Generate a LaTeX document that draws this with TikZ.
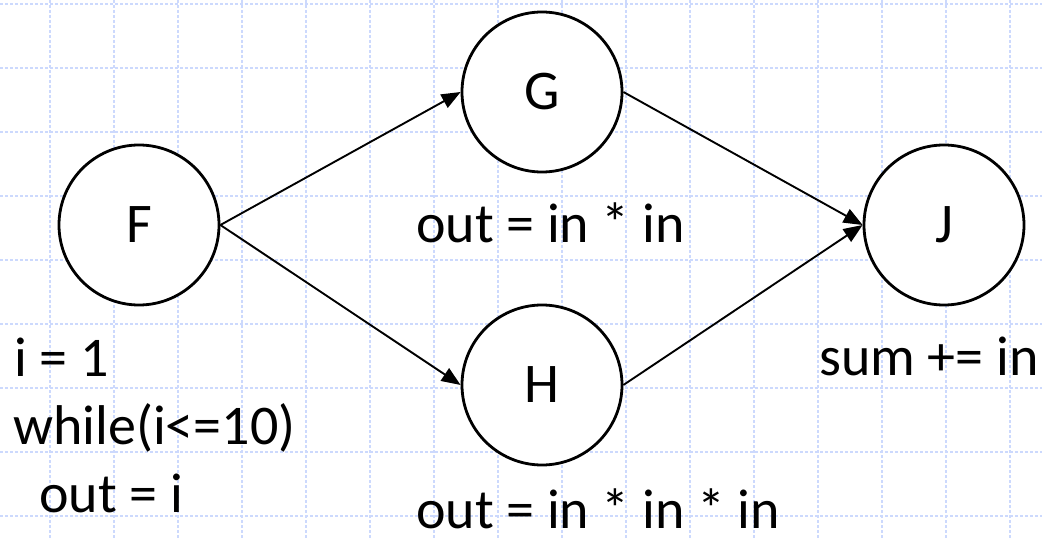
\documentclass[tikz,border=0pt]{standalone}
\usepackage{fontspec}
\setmainfont{Carlito}
\usetikzlibrary{arrows.meta,positioning}
\definecolor{gridblue}{RGB}{204,217,253}

\begin{document}
\begin{tikzpicture}[x=1pt, y=-1pt,
        every node/.style={font=\fontsize{56}{67}\selectfont},
        state/.style={draw, circle, fill=white, line width=2.8pt, minimum size=160pt, inner sep=0pt},
        gridline/.style={gridblue, line width=1.3pt, dash pattern=on 3pt off 2pt},
        flow/.style={-{Triangle[length=19pt, width=15pt]}, line width=1.9pt}]
        \useasboundingbox (0,0) rectangle (1042,540);

        % background grid
        \foreach \gx in {50,114,...,1010} {
            \draw[gridline] (\gx,0) -- (\gx,540);
        }
        \foreach \gy in {4,68,...,516} {
            \draw[gridline] (0,\gy) -- (1042,\gy);
        }

        \node[state] (f) at (139,225) {F};
        \node[state] (g) at (542,92) {G};
        \node[state] (h) at (542,385) {H};
        \node[state] (j) at (944,225) {J};

        \draw[flow] (f.east) -- (g.west);
        \draw[flow] (f.east) -- (h.west);
        \draw[flow] (g.east) -- (j.west);
        \draw[flow] (h.east) -- (j.west);

        % code labels
        \node[anchor=base west, inner sep=0pt] (finit) at (14,376) {i = 1};
        \node[anchor=base west, inner sep=0pt] (floop) at (13,444) {while(i<=10)};
        \node[anchor=base west, inner sep=0pt] (fbody) at (39,512) {out = i};
        \node[anchor=base west, inner sep=0pt] (gcode) at (416,243) {out = in * in};
        \node[anchor=base west, inner sep=0pt] (hcode) at (416,528) {out = in * in * in};
        \node[anchor=base west, inner sep=0pt] (jcode) at (819,375) {sum += in};
    \end{tikzpicture}
\end{document}
